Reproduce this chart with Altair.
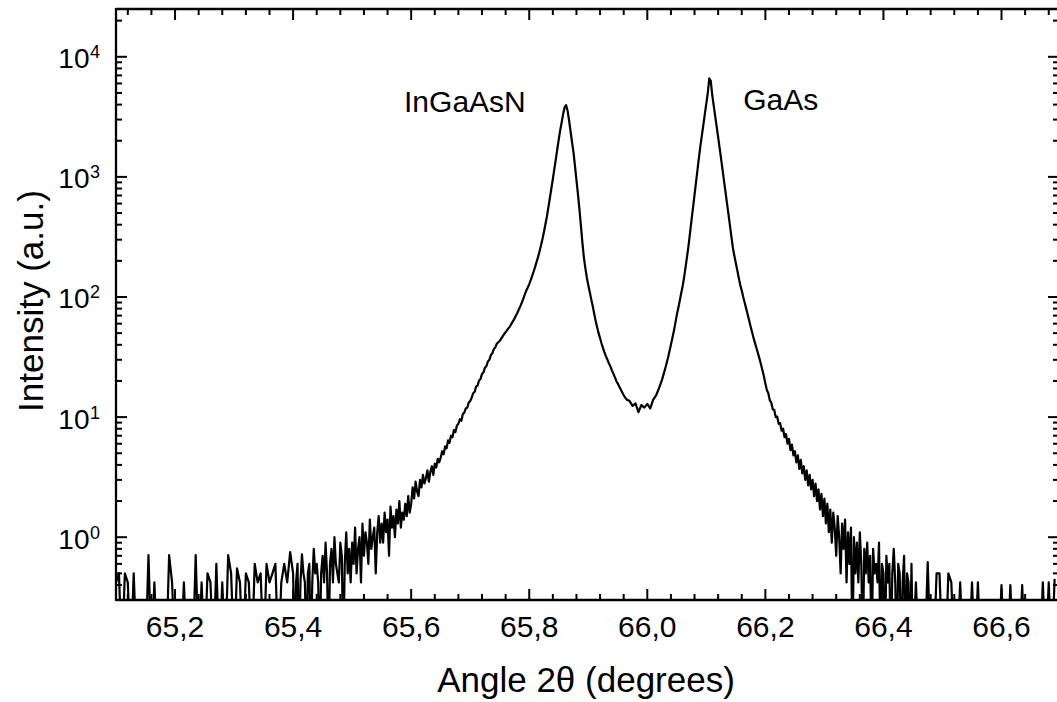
import altair as alt
import pandas as pd

FONT = "Liberation Sans"
W, H = 941, 591

# ---------------- data ----------------
# intensity segments: (start angle, step, values); 0 = no counts (below axis)
left_tail_start, left_tail_step = 65.100, 0.005
left_tail = [0.42, 0.5, 0, 0.5, 0.42, 0, 0.5, 0, 0, 0,
             0, 0.71, 0, 0.42, 0, 0, 0, 0, 0.71, 0.42,
             0, 0, 0, 0.42, 0, 0, 0, 0.71, 0, 0.42,
             0, 0.5, 0.42, 0, 0.6, 0, 0.42, 0, 0.71, 0.5,
             0, 0.55, 0.42, 0, 0.5, 0.42, 0, 0.6, 0.42, 0.5,
             0, 0.6, 0.42, 0.5, 0.6, 0, 0.42, 0.6, 0.42, 0.75]

rise_start, rise_step = 65.400, 0.0025
rise = [0.5, 0, 0.42, 0.6, 0, 0.42, 0.72, 0.5, 0.42, 0,
        0.5, 0.6, 0, 0.42, 0.8, 0.5, 0.6, 0.42, 0, 0.5,
        0.7, 0.42, 0.9, 0.5, 0, 0.6, 0.8, 0.42, 1.0, 0.6,
        0.5, 0.42, 0.9, 0.7, 0, 0.6, 1.1, 0.5, 0.8, 0.42,
        0.9, 0.6, 1.2, 0.5, 0.8, 1.0, 0.42, 1.3, 0.7, 1.1,
        0.9, 0.6, 1.4, 0.8, 1.0, 1.2, 0.5, 1.1, 1.5, 0.9,
        1.3, 0.9, 1.6, 1.1, 1.4, 0.7, 1.8, 1.2, 1.5, 1.0,
        1.7, 1.3, 2.0, 1.2, 1.6, 1.4, 1.9, 1.5, 2.2, 1.6,
        1.9, 2.6, 2.1, 2.9, 2.4, 2.2, 3.0, 2.6, 3.3, 2.8,
        3.1, 3.6, 2.9, 3.5, 3.9, 3.3, 4.1, 3.8, 4.5, 4.2,
        4.6, 5.2, 4.9, 5.7, 5.5, 6.4, 6.1, 7.0, 6.8, 7.8,
        7.5, 8.5, 8.8, 9.6, 9.3, 10.6, 10.9, 11.8, 12.0, 13.2,
        13.6, 14.5, 15.8, 16.2, 18.0, 18.3, 20.2, 20.8, 22.9, 23.6,
        25.8, 26.6, 29.1, 30.0, 32.8, 34.0, 36.8, 38.0, 40.8, 42.0,
        43, 45, 47, 49, 51, 53, 55, 57, 60, 63,
        66, 70, 74, 79, 84, 90, 97, 105, 113, 120]

peak1_start, peak1_step = 65.800, 0.0025
peak1 = [128, 138, 150, 163, 178, 196, 216, 240, 270, 305,
         350, 405, 470, 560, 670, 800, 960, 1160, 1400, 1700,
         2050, 2450, 2850, 3350, 3800, 3950, 3550, 2950, 2400, 1950,
         1600, 1230, 940, 720, 540, 395, 285, 215, 175, 146,
         126, 110, 96, 84, 73, 63, 56, 50, 45.5, 41,
         37.5, 34.5, 32, 30, 28, 26.5, 24.5, 23, 21.5, 20]

valley_start, valley_step = 65.950, 0.005
valley = [19, 17, 15.2, 14.0, 13.6, 12.4, 13.0, 11.0, 12.6, 12.0,
          12.9, 11.8, 14.0, 15.2, 17.5, 20.5, 25, 31, 40, 52]

peak2_start, peak2_step = 66.050, 0.0025
peak2 = [71, 81, 93, 108, 124, 148, 180, 220, 272, 346,
         440, 558, 710, 902, 1146, 1456, 1820, 2228, 2729, 3342,
         4093, 5012, 6600, 6300, 4808, 3926, 3206, 2618, 2138, 1746,
         1415, 1143, 923, 746, 603, 487, 393, 317, 256, 220,
         191, 166, 144, 126, 113, 100, 89.7, 80, 71.4, 63.8,
         56.9, 50.8, 45.6, 41.3, 37.4, 33.9, 30.7, 27.5, 24.5, 21.9]

fall_start, fall_step = 66.200, 0.0025
fall = [19.0, 16.8, 15.8, 13.8, 13.2, 11.6, 11.5, 10.0, 10.1, 8.8,
        8.9, 7.7, 8.0, 6.8, 7.2, 6.0, 6.6, 5.3, 5.9, 4.8,
        5.2, 4.2, 4.8, 3.7, 4.4, 3.4, 3.9, 3.0, 3.6, 2.7,
        3.3, 2.5, 3.0, 2.2, 2.8, 2.0, 2.5, 1.7, 2.3, 1.5,
        2.1, 1.3, 1.9, 1.1, 1.7, 0.9, 1.6, 1.2, 0.7, 1.5,
        1.0, 0.5, 1.3, 0.8, 1.4, 0.42, 1.1, 0.6, 1.2, 0,
        1.0, 0.5, 0.9, 0.42, 1.1, 0.6, 0, 0.8, 0.5, 0.9,
        0.42, 0.7, 0, 0.8, 0.5, 0.6, 0.42, 0.9, 0, 0.6,
        0.5, 0, 0.7, 0.42, 0.6, 0, 0.5, 0.8, 0.42, 0,
        0.6, 0.5, 0, 0.42, 0.7, 0, 0.5, 0.42, 0, 0.6]

right_tail_start, right_tail_step = 66.450, 0.005
right_tail = [0, 0.42, 0, 0, 0, 0.62, 0, 0, 0.5, 0.5,
              0, 0, 0.5, 0.42, 0, 0, 0.42, 0, 0, 0,
              0.42, 0, 0.42, 0, 0, 0, 0, 0, 0, 0,
              0.4, 0, 0, 0.4, 0, 0, 0, 0.4, 0, 0,
              0, 0, 0, 0, 0.42, 0, 0.42, 0, 0.45]

# axes
x_domain = [65.1, 66.694]
y_domain = [0.3, 25000]
x_major_ticks = [65.2, 65.4, 65.6, 65.8, 66.0, 66.2, 66.4, 66.6]
x_tick_labels = ["65,2", "65,4", "65,6", "65,8", "66,0", "66,2", "66,4", "66,6"]
x_minor_ticks = [65.12, 65.16, 65.24, 65.28, 65.32, 65.36, 65.44, 65.48,
                 65.52, 65.56, 65.64, 65.68, 65.72, 65.76, 65.84, 65.88,
                 65.92, 65.96, 66.04, 66.08, 66.12, 66.16, 66.24, 66.28,
                 66.32, 66.36, 66.44, 66.48, 66.52, 66.56, 66.64, 66.68]
y_major_ticks = [1, 10, 100, 1000, 10000]
y_tick_exponents = ["0", "1", "2", "3", "4"]
y_minor_ticks = [0.4, 0.5, 0.6, 0.7, 0.8, 0.9,
                 2, 3, 4, 5, 6, 7, 8, 9,
                 20, 30, 40, 50, 60, 70, 80, 90,
                 200, 300, 400, 500, 600, 700, 800, 900,
                 2000, 3000, 4000, 5000, 6000, 7000, 8000, 9000,
                 20000]

peak_labels = ["InGaAsN", "GaAs"]
peak_label_x = [65.691, 66.226]
peak_label_y = [3480, 3620]

x_title = "Angle 2θ (degrees)"
y_title = "Intensity (a.u.)"

# ---------------- build tables ----------------
rows = []
for start, step, vals in [(left_tail_start, left_tail_step, left_tail),
                          (rise_start, rise_step, rise),
                          (peak1_start, peak1_step, peak1),
                          (valley_start, valley_step, valley),
                          (peak2_start, peak2_step, peak2),
                          (fall_start, fall_step, fall),
                          (right_tail_start, right_tail_step, right_tail)]:
    for i, v in enumerate(vals):
        rows.append({"angle": round(start + i * step, 5), "intensity": v})
curve_df = pd.DataFrame(rows)

xs = alt.Scale(domain=x_domain, nice=False, zero=False)
ys = alt.Scale(type="log", domain=y_domain, nice=False)

curve = alt.Chart(curve_df).transform_calculate(
    v="max(datum.intensity, 0.1)"
).mark_line(color="black", strokeWidth=2.2, clip=True, strokeJoin="round").encode(
    x=alt.X("angle:Q", scale=xs, axis=None),
    y=alt.Y("v:Q", scale=ys, axis=None),
)

xmaj = pd.DataFrame({"t": x_major_ticks, "lab": x_tick_labels})
xmin = pd.DataFrame({"t": x_minor_ticks})
ymaj = pd.DataFrame({"t": y_major_ticks, "base": ["10"] * len(y_major_ticks), "exp": y_tick_exponents})
ymin = pd.DataFrame({"t": y_minor_ticks})


def xticks(df, y0, y1):
    return alt.Chart(df).mark_rule(color="black", strokeWidth=2).encode(
        x=alt.X("t:Q", scale=xs, axis=None), y=alt.value(y0), y2=alt.value(y1))


def yticks(df, x0, x1):
    return alt.Chart(df).mark_rule(color="black", strokeWidth=2).encode(
        y=alt.Y("t:Q", scale=ys, axis=None), x=alt.value(x0), x2=alt.value(x1))


one = pd.DataFrame({"k": [0]})
frame = [
    alt.Chart(one).mark_rule(color="black", strokeWidth=2.3).encode(
        x=alt.value(0), y=alt.value(-1), y2=alt.value(H + 1)),
    alt.Chart(one).mark_rule(color="black", strokeWidth=2.3).encode(
        y=alt.value(0), x=alt.value(0), x2=alt.value(W + 10)),
    alt.Chart(one).mark_rule(color="black", strokeWidth=2.3).encode(
        y=alt.value(H), x=alt.value(0), x2=alt.value(W + 10)),
]

ticks = [
    xticks(xmaj, H, H - 11), xticks(xmaj, 0, 11),
    xticks(xmin, H, H - 6), xticks(xmin, 0, 6),
    yticks(ymaj, 0, 11), yticks(ymaj, W + 2, W + 2 - 11),
    yticks(ymin, 0, 6), yticks(ymin, W + 2, W + 2 - 6),
]

x_labels = alt.Chart(xmaj).mark_text(
    font=FONT, fontSize=30, align="center", baseline="alphabetic", color="black"
).encode(x=alt.X("t:Q", scale=xs, axis=None), y=alt.value(628), text="lab:N")

y_base = alt.Chart(ymaj).mark_text(
    font=FONT, fontSize=28, align="right", baseline="alphabetic", dy=11.5, color="black"
).encode(y=alt.Y("t:Q", scale=ys, axis=None), x=alt.value(-26.5), text="base:N")

y_exp = alt.Chart(ymaj).mark_text(
    font=FONT, fontSize=18, align="left", baseline="alphabetic", dy=1.5, color="black"
).encode(y=alt.Y("t:Q", scale=ys, axis=None), x=alt.value(-26), text="exp:N")

ann = alt.Chart(pd.DataFrame({"x": peak_label_x, "y": peak_label_y, "lab": peak_labels})).mark_text(
    font=FONT, fontSize=30, align="center", baseline="alphabetic", color="black"
).encode(x=alt.X("x:Q", scale=xs, axis=None), y=alt.Y("y:Q", scale=ys, axis=None), text="lab:N")

xt = alt.Chart(pd.DataFrame({"lab": [x_title]})).mark_text(
    font=FONT, fontSize=35, align="center", baseline="alphabetic", color="black"
).encode(x=alt.value(470), y=alt.value(683), text="lab:N")

yt = alt.Chart(pd.DataFrame({"lab": [y_title]})).mark_text(
    font=FONT, fontSize=35, align="center", baseline="alphabetic", angle=270, color="black"
).encode(x=alt.value(-73), y=alt.value(292), text="lab:N")

chart = alt.layer(curve, *ticks, *frame, x_labels, y_base, y_exp, ann, xt, yt).properties(
    width=W, height=H,
    autosize=alt.AutoSizeParams(type="none"),
    padding={"left": 116, "top": 9, "right": 0, "bottom": 102},
    background="white",
).configure_view(stroke=None)

chart.save("out.html", embed_options={"renderer": "svg", "actions": False})
